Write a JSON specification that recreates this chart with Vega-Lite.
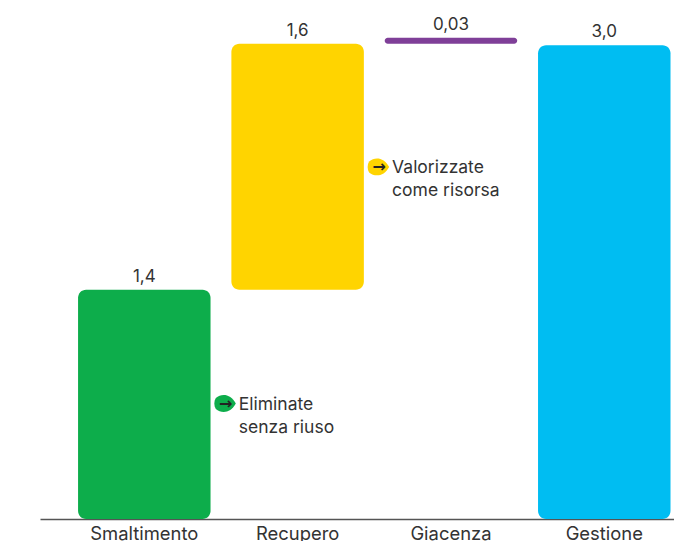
{"$schema":"https://vega.github.io/schema/vega-lite/v6.json","width":634,"height":519,"autosize":"none","padding":{"left":40,"top":0,"right":0,"bottom":22},"background":"white","config":{"view":{"stroke":null},"font":"Inter"},"datasets":{"bars":[{"cat":"Smaltimento","start":0,"end":1.45,"label":"1,4","color":"#0DAD4B"},{"cat":"Recupero","start":1.45,"end":3.005,"label":"1,6","color":"#FFD400"},{"cat":"Giacenza","start":3.005,"end":3.043,"label":"0,03","color":"#7F3F98"},{"cat":"Gestione","start":0,"end":2.995,"label":"3,0","color":"#00BDF2"}],"notes":[{"cat":"Smaltimento","pos":0.73,"text":"Eliminate\nsenza riuso","color":"#0DAD4B"},{"cat":"Recupero","pos":2.226,"text":"Valorizzate\ncome risorsa","color":"#FFD400"}]},"data":{"name":"bars"},"encoding":{"x":{"field":"cat","type":"nominal","sort":["Smaltimento","Recupero","Giacenza","Gestione"],"scale":{"paddingInner":0.136,"paddingOuter":0.1355,"align":0.916},"axis":{"title":null,"domainColor":"#555555","domainWidth":1.5,"ticks":false,"labelAngle":0,"labelFontSize":18.4,"labelColor":"#333333","labelPadding":5,"labelBaseline":"top","labelFont":"Inter","grid":false}}},"layer":[{"transform":[{"filter":"datum.cat !== 'Giacenza'"}],"mark":{"type":"bar","cornerRadius":8},"encoding":{"y":{"field":"start","type":"quantitative","scale":{"domain":[0,3.281],"nice":false,"zero":false},"axis":null},"y2":{"field":"end"},"color":{"field":"color","type":"nominal","scale":null}}},{"transform":[{"filter":"datum.cat === 'Giacenza'"}],"mark":{"type":"bar","cornerRadius":3},"encoding":{"y":{"field":"start","type":"quantitative"},"y2":{"field":"end"},"color":{"field":"color","type":"nominal","scale":null}}},{"mark":{"type":"text","fontSize":17,"color":"#333333","baseline":"alphabetic","dy":-8},"encoding":{"y":{"field":"end","type":"quantitative"},"text":{"field":"label"}}},{"data":{"name":"notes"},"mark":{"type":"point","shape":"M-1,-0.55C-0.4,-1.05,0.5,-0.95,1,0C0.5,0.95,-0.4,1.05,-1,0.55C-1.2,0.25,-1.2,-0.25,-1,-0.55Z","filled":true,"opacity":1,"strokeWidth":0,"size":400,"xOffset":81.5},"encoding":{"y":{"field":"pos","type":"quantitative"},"color":{"field":"color","type":"nominal","scale":null}}},{"data":{"name":"notes"},"mark":{"type":"text","text":"→","font":"DejaVu Sans","fontWeight":"bold","fontSize":16,"color":"#222222","baseline":"middle","align":"center","xOffset":81.5},"encoding":{"y":{"field":"pos","type":"quantitative"}}},{"data":{"name":"notes"},"mark":{"type":"text","fontSize":17.5,"lineHeight":23,"lineBreak":"\n","color":"#333333","baseline":"alphabetic","align":"left","dx":94.5,"dy":6},"encoding":{"y":{"field":"pos","type":"quantitative"},"text":{"field":"text"}}}]}
